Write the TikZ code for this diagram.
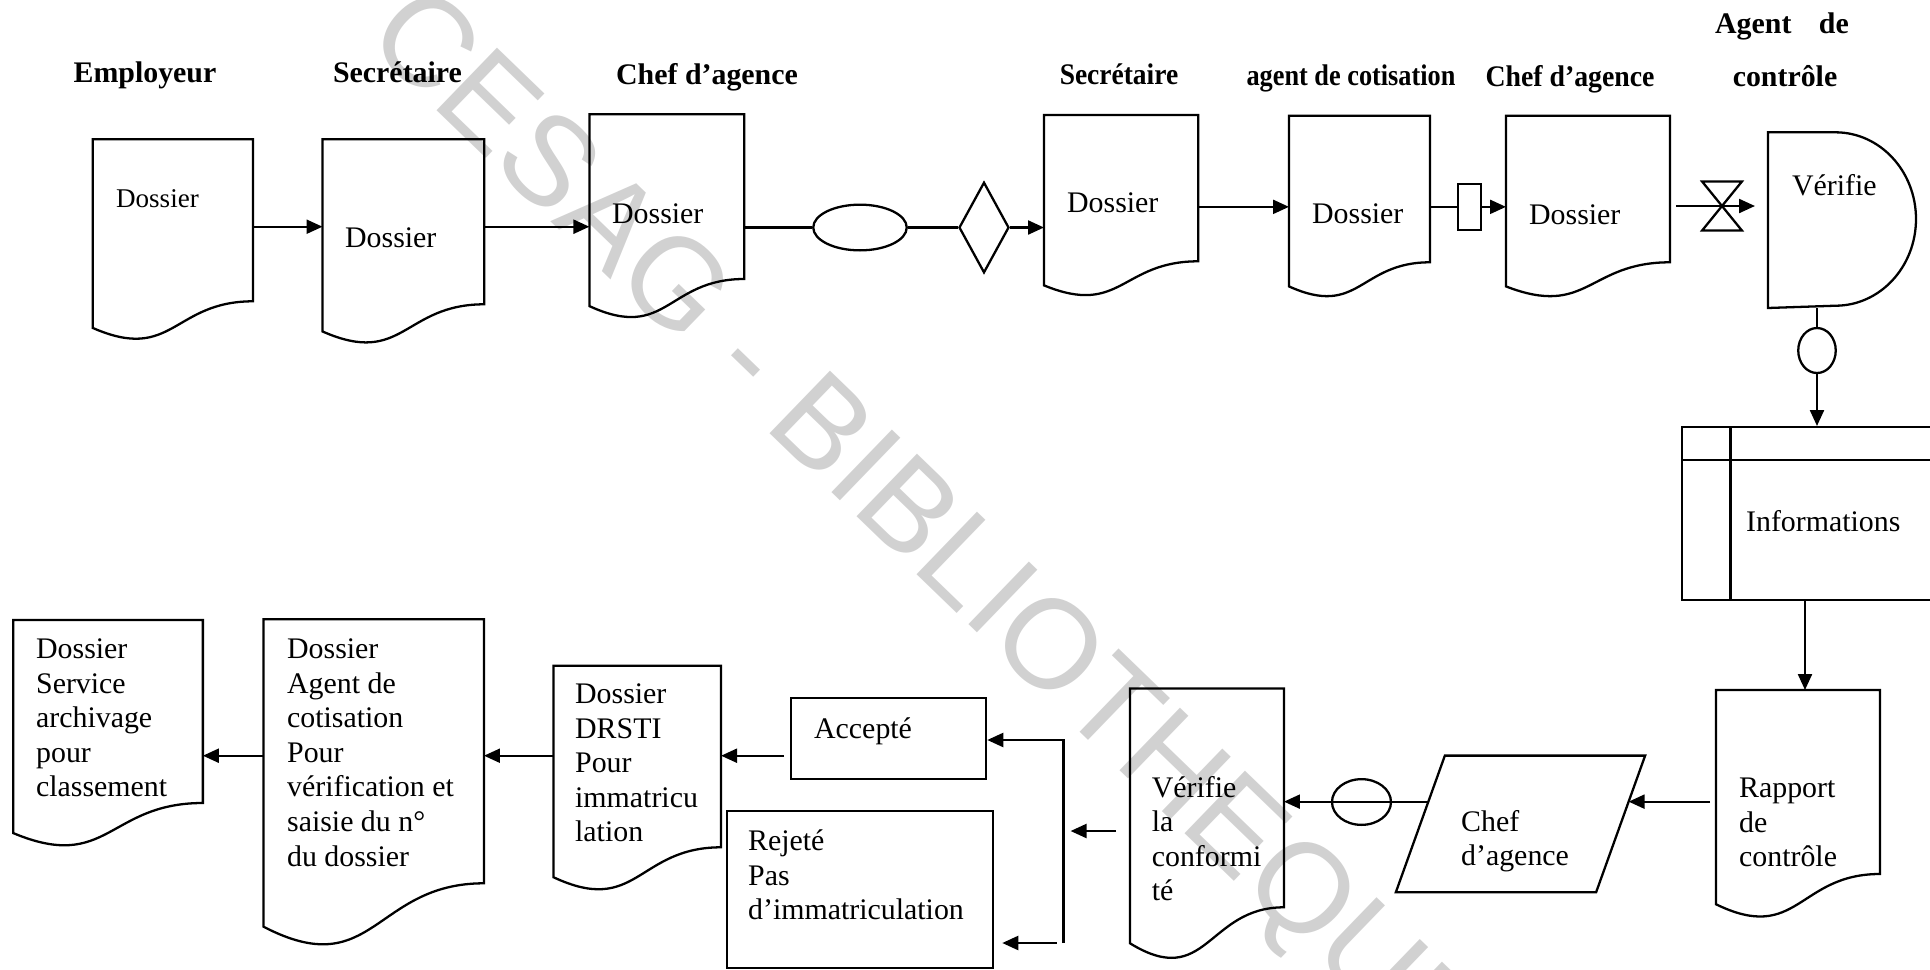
\documentclass[tikz,border=0pt]{standalone}
\usepackage{fontspec}
\setmainfont{Liberation Serif}
\newfontfamily\wmfont{Liberation Sans}
\usepackage{tikz}
\usetikzlibrary{arrows.meta,positioning,calc,shapes.geometric}
\tikzset{
  %% Flowchart shapes
  docbox/.style={rectangle, anchor=north west, inner sep=0pt},
  plainbox/.style={draw, rectangle, anchor=north west, inner sep=0pt},
  oval/.style={draw, ellipse, inner sep=0pt},
  losange/.style={draw, diamond, inner sep=0pt},
  %% Texts
  hdr/.style={anchor=north, inner sep=0pt, font=\fontsize{8.5}{9.8}\selectfont\bfseries},
  txt/.style={anchor=north west, inner sep=0pt, align=left, font=\fontsize{8.5}{9.82}\selectfont},
  wmark/.style={inner sep=0pt, rotate=-44, text=black!18, font=\wmfont\fontsize{36}{36}\selectfont},
  %% Connectors
  flow/.style={-{Triangle[length=0.16cm,width=0.14cm]}},
  link/.style={-},
}
%% document outline drawn round a docbox (Word-like wavy bottom)
\newcommand{\docwave}[1]{%
  \draw let \p1=(#1.south west), \p2=(#1.north east), \n1={\y2-\y1} in
    (\x1,\y2) -- (\p2) -- (\x2,\y1)
    .. controls ({0.5*(\x1+\x2)},\y1) and ({0.5*(\x1+\x2)},{\y1-0.381*\n1}) ..
    (\x1,{\y1-0.1646*\n1}) -- cycle;}

\begin{document}
\begin{tikzpicture}[x=1cm, y=1cm, line width=0.65pt, font=\fontsize{8.5}{9.82}\selectfont]
\useasboundingbox (0,0) rectangle (19.30,-9.69);
\clip (0,0) rectangle (19.30,-9.69);

%% watermark
\node[wmark] (wm) at (9.22,-5.35) {CESAG - BIBLIOTHEQUE};

%% column headers
\node[hdr] (hEmp)   at ( 1.45,-0.61) {Employeur};
\node[hdr] (hSec)   at ( 3.975,-0.61) {Secrétaire};
\node[hdr] (hChef)  at ( 7.07,-0.62) {Chef d’agence};
\node[hdr] (hSecB)  at (11.19,-0.63) {\scalebox{0.92}[1]{Secrétaire}};
\node[hdr] (hCot)   at (13.51,-0.64) {\scalebox{0.88}[1]{agent de cotisation}};
\node[hdr] (hChefB) at (15.70,-0.64) {\scalebox{0.93}[1]{Chef d’agence}};
\node[hdr] (hAgent) at (17.82,-0.12) {Agent\hspace{0.275cm}de};
\node[hdr] (hCtrl)  at (17.85,-0.64) {contrôle};

%% top row documents
\node[docbox, minimum width=1.58cm,  minimum height=1.597cm] (d1) at ( 0.928,-1.393) {};
\node[docbox, minimum width=1.595cm, minimum height=1.627cm] (d2) at ( 3.225,-1.393) {};
\node[docbox, minimum width=1.526cm, minimum height=1.624cm] (d3) at ( 5.894,-1.143) {};
\node[docbox, minimum width=1.52cm,  minimum height=1.44cm]  (d4) at (10.44,-1.15) {};
\node[docbox, minimum width=1.386cm, minimum height=1.443cm] (d5) at (12.89,-1.157) {};
\node[docbox, minimum width=1.616cm, minimum height=1.443cm] (d6) at (15.06,-1.157) {};

\node[txt, font=\fontsize{7.7}{9}\selectfont] (d1t) at ( 1.15,-1.88) {Dossier};
\node[txt] (d2t) at ( 3.44,-2.27) {Dossier};
\node[txt] (d3t) at ( 6.11,-2.03) {Dossier};
\node[txt] (d4t) at (10.66,-1.92) {Dossier};
\node[txt] (d5t) at (13.11,-2.03) {Dossier};
\node[txt] (d6t) at (15.28,-2.04) {Dossier};

%% small symbols on the top row
\node[oval, minimum width=0.935cm, minimum height=0.457cm] (ell1) at (8.60,-2.275) {};
\node[losange, minimum width=0.50cm, minimum height=0.906cm] (diam) at (9.84,-2.275) {};
\node[plainbox, minimum width=0.23cm, minimum height=0.46cm] (rect) at (14.57,-1.827) {};
\node[rectangle, inner sep=0pt, minimum width=0.374cm, minimum height=0.466cm] (coll) at (17.22,-2.06) {};
\draw (coll.north west) -- (coll.north east) -- (coll.south west) -- (coll.south east) -- cycle;

%% delay shape (Vérifie)
\node[docbox, minimum width=1.48cm, minimum height=1.734cm] (verif) at (17.68,-1.323) {};
\draw (verif.north west) -- ++(0.675,0)
  arc[start angle=90, end angle=-90, x radius=0.805, y radius=0.867] -- (verif.south west) -- cycle;
\node[txt] (vert) at (17.91,-1.73) {Vérifie};

\node[oval, minimum width=0.375cm, minimum height=0.45cm] (ell2) at (18.17,-3.505) {};

%% internal storage (Informations)
\node[plainbox, minimum width=2.7cm, minimum height=1.73cm] (info) at (16.81,-4.26) {};
\draw ([xshift=0.496cm]info.north west) -- ([xshift=0.496cm]info.south west);
\draw ([yshift=-0.34cm]info.north west) -- ([yshift=-0.34cm]info.north east);
\node[txt] (infot) at (17.45,-5.09) {Informations};

%% bottom row
\node[docbox, minimum width=1.617cm, minimum height=1.817cm] (rap)   at (17.16,-6.90) {};
\node[docbox, minimum width=1.517cm, minimum height=2.165cm] (conf)  at (11.30,-6.885) {};
\node[docbox, minimum width=1.654cm, minimum height=1.793cm] (drsti) at ( 5.534,-6.657) {};
\node[docbox, minimum width=2.181cm, minimum height=2.617cm] (mid)   at ( 2.636,-6.193) {};
\node[docbox, minimum width=1.873cm, minimum height=1.807cm] (arc)   at ( 0.133,-6.20) {};
\node[plainbox, minimum width=1.95cm, minimum height=0.81cm] (acc) at (7.90,-6.97) {};
\node[plainbox, minimum width=2.66cm, minimum height=1.57cm] (rej) at (7.26,-8.10) {};
\node[oval, minimum width=0.59cm, minimum height=0.457cm] (ell3) at (13.615,-8.02) {};

%% parallelogram (Chef d'agence)
\node[rectangle, inner sep=0pt, minimum width=2.47cm, minimum height=1.343cm] (chef) at (15.205,-8.239) {};
\draw (chef.south west) -- ([xshift=-0.49cm]chef.south east) -- (chef.north east)
  -- ([xshift=0.49cm]chef.north west) -- cycle;

\node[txt] (rapt)  at (17.38,-7.77) {Rapport\\de\\contrôle};
\node[txt] (chft)  at (14.60,-8.09) {Chef\\d’agence};
\node[txt] (conft) at (11.507,-7.75) {Vérifie\\la\\conformi\\té};
\node[txt] (acct)  at ( 8.13,-7.17) {Accepté};
\node[txt] (rejt)  at ( 7.47,-8.29) {Rejeté\\Pas\\d’immatriculation};
\node[txt] (drst)  at ( 5.74,-6.83) {Dossier\\DRSTI\\Pour\\immatricu\\lation};
\node[txt] (midt)  at ( 2.86,-6.38) {Dossier\\Agent de\\cotisation\\Pour\\vérification et\\saisie du n°\\du dossier};
\node[txt] (arct)  at ( 0.35,-6.38) {Dossier\\Service\\archivage\\pour\\classement};

\foreach \d in {d1,d2,d3,d4,d5,d6,rap,conf,drsti,mid,arc}
  \docwave{\d};

%% helper points for the connectors
\coordinate (ya)   at (0,-2.267);
\coordinate (low)  at (0,-7.557);
\coordinate (jtop) at (10.636,-7.40);
\coordinate (jmid) at (10.636,-8.31);
\coordinate (jbot) at (10.636,-9.43);
\coordinate (chefin)  at ($(chef.north east)!0.337!([xshift=-0.49cm]chef.south east)$);
\coordinate (chefout) at ($([xshift=0.49cm]chef.north west)!0.337!(chef.south west)$);

%% top row connectors
\draw[flow] (d1.east |- ya) -- (d2.west |- ya);
\draw[flow] (d2.east |- ya) -- (d3.west |- ya);
\draw[link] (d3.east |- ell1) -- (ell1.west);
\draw[link] (ell1.east) -- (diam.west);
\draw[flow] (diam.east) -- (d4.west |- diam);
\draw[flow] (d4.east |- rect) -- (d5.west |- rect);
\draw[link] (d5.east |- rect) -- (rect.west);
\draw[flow] (rect.east) -- (d6.west |- rect);
\draw[flow, shorten <=0.06cm, shorten >=0.13cm] (d6.east |- coll) -- (verif.west |- coll);
\draw[link] (ell2.north) -- (ell2.north |- verif.south);
\draw[flow] (ell2.south) -- (ell2.south |- info.north);
\draw[flow] ([xshift=0.07cm]rap.north |- info.south) -- ([xshift=0.07cm]rap.north);

%% bottom row connectors
\draw[flow, shorten <=0.06cm] (rap.west |- chefin) -- (chefin);
\draw[flow] (chefout) -- (conf.east |- chefout);
\draw[flow, shorten <=0.14cm, shorten >=0.07cm] (conf.west |- jmid) -- (jmid);
\draw[flow] (jbot) -- (jtop) -- (acc.east |- jtop);
\draw[flow, shorten >=0.08cm] ([xshift=-0.07cm]jbot) -- (rej.east |- jbot);
\draw[flow, shorten <=0.06cm] (acc.west |- low) -- (drsti.east |- low);
\draw[flow] (drsti.west |- low) -- (mid.east |- low);
\draw[flow] (mid.west |- low) -- (arc.east |- low);
\end{tikzpicture}
\end{document}
